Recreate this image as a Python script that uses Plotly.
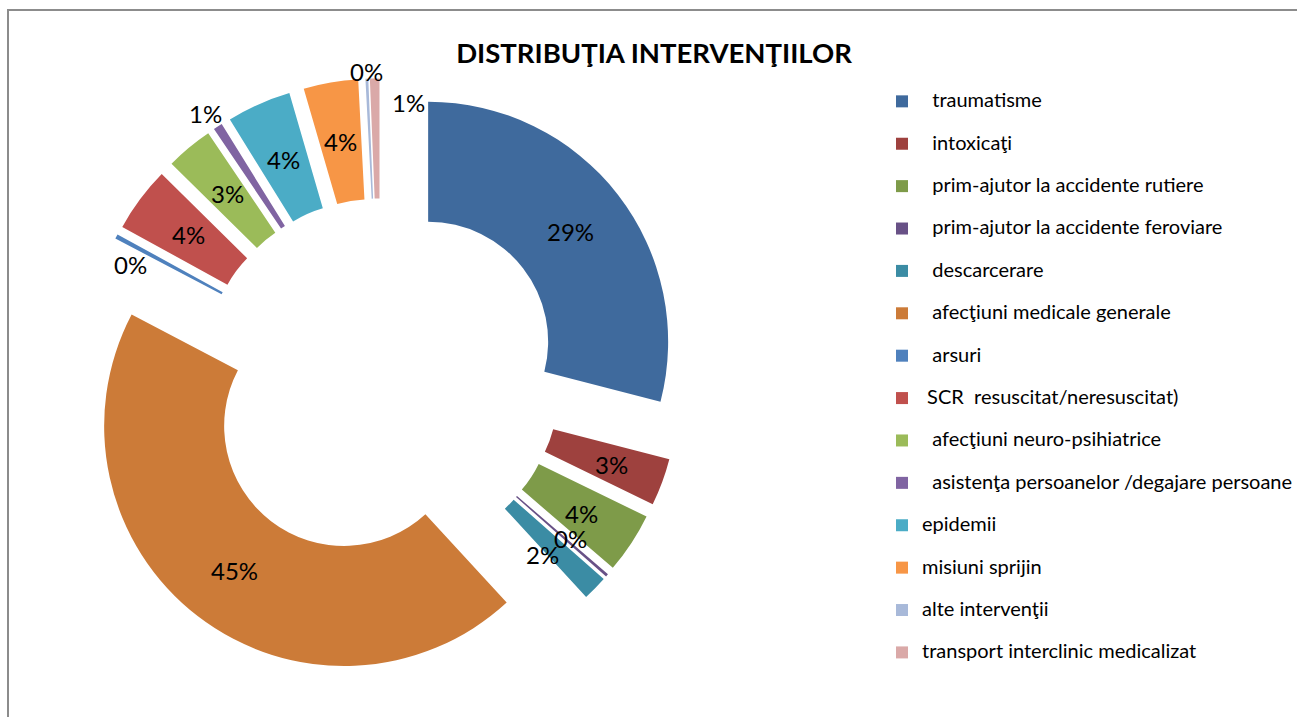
import math
import plotly.graph_objects as go

# ---- data ----
categories = [
    "  traumatisme",
    "  intoxicaţi",
    "  prim-ajutor la accidente rutiere",
    "  prim-ajutor la accidente feroviare",
    "  descarcerare",
    "  afecţiuni medicale generale",
    "  arsuri",
    " SCR  resuscitat/neresuscitat)",
    "  afecţiuni neuro-psihiatrice",
    "  asistenţa persoanelor /degajare persoane",
    "epidemii",
    "misiuni sprijin",
    "alte intervenţii",
    "transport interclinic medicalizat",
]
values = [29.03, 3.19, 4.08, 0.19, 1.67, 44.53, 0.31, 4.39, 3.17, 0.61, 4.33, 3.67, 0.19, 0.64]

# ---- styles ----
colors = [
    "#3F6A9D", "#9E413E", "#7E9B49", "#685186", "#3B8CA4", "#CC7B38",
    "#4F81BD", "#C0504D", "#9BBB59", "#8064A2", "#4BACC6", "#F79646",
    "#A8B9D9", "#DAA9A8",
]
label_placement = [
    "inside", "inside", "inside", "inside", "inside", "inside",
    "outside", "inside", "inside", "outside", "inside", "inside",
    "outside", "outside",
]
# small pixel nudges mimicking Excel's label collision avoidance
label_nudge_px = [
    (0, 0), (6, 3), (0, 3), (9, 3), (-10, 8), (0, 2),
    (27, 35), (0, 0), (0, 0), (-5, -2), (0, 0), (0, 0),
    (0, 4), (34, 35),
]

W, H = 1297, 717
FONT = "Lato, Carlito, Calibri, sans-serif"
LEGEND_TEXT_PX = 20
LABEL_SIZE = 24
HOLE = 0.5
PULL = 0.25
DOM_X = [80.7 / W, 680.7 / W]
DOM_Y = [38.6 / H, 638.6 / H]

# legend labels: bigger visible text plus an empty line for Excel-like spacing
legend_labels = [
    f"<span style='font-size:{LEGEND_TEXT_PX}px'>{c}</span><br>\u00a0" for c in categories
]

fig = go.Figure(
    go.Pie(
        labels=legend_labels,
        values=values,
        sort=False,
        direction="clockwise",
        rotation=0,
        hole=HOLE,
        pull=PULL,
        marker=dict(colors=colors, line=dict(width=0)),
        textinfo="none",
        domain=dict(x=DOM_X, y=DOM_Y),
        hoverinfo="percent",
    )
)

# percentage labels placed like Excel's data labels, using the pie's geometry
box_w = W * (DOM_X[1] - DOM_X[0])
box_h = H * (DOM_Y[1] - DOM_Y[0])
r = min(box_w, box_h) / 2 / (1 + PULL)
cx = W * (DOM_X[0] + DOM_X[1]) / 2
cy = H * (1 - (DOM_Y[0] + DOM_Y[1]) / 2)
total = sum(values)
annotations = []
cum = 0.0
for v, place, (nx, ny) in zip(values, label_placement, label_nudge_px):
    theta = 2 * math.pi * (cum + v / 2) / total
    cum += v
    s, c = math.sin(theta), math.cos(theta)
    if place == "inside":
        dist = PULL * r + r * (1 + HOLE) / 2
    else:
        pad = math.sqrt((16 * s) ** 2 + (11 * c) ** 2)
        dist = (1 + PULL) * r + pad
    px = cx + dist * s + nx
    py = cy - dist * c + ny
    annotations.append(
        dict(
            x=px / W, y=1 - py / H, xref="paper", yref="paper",
            text=f"{v / total:.0%}", showarrow=False,
            xanchor="center", yanchor="middle",
            font=dict(family=FONT, size=LABEL_SIZE, color="black"),
        )
    )

fig.update_layout(
    width=W,
    height=H,
    margin=dict(l=0, r=0, t=0, b=0, pad=0, autoexpand=False),
    paper_bgcolor="white",
    plot_bgcolor="white",
    font=dict(family=FONT, color="black"),
    title=dict(
        text="<b>DISTRIBUŢIA INTERVENŢIILOR</b>",
        font=dict(family=FONT, size=27.5, color="black"),
        x=654 / W,
        xanchor="center",
        xref="paper",
        y=1 - 53 / H,
        yref="container",
        yanchor="middle",
    ),
    showlegend=True,
    legend=dict(
        x=(902 - 20) / W,
        xanchor="left",
        y=1 - 85 / H,
        yanchor="top",
        valign="top",
        font=dict(family=FONT, size=15.15, color="black"),
        bgcolor="rgba(0,0,0,0)",
    ),
    annotations=annotations,
    shapes=[
        dict(
            type="path",
            xref="paper",
            yref="paper",
            path=f"M {8 / W} 0 L {8 / W} {1 - 10 / H} L 1 {1 - 10 / H}",
            line=dict(color="#8C8C8C", width=2),
        )
    ],
)

fig.write_html(
    "out.html",
    config={"displayModeBar": False},
    post_script="document.body.style.margin='0';",
)
